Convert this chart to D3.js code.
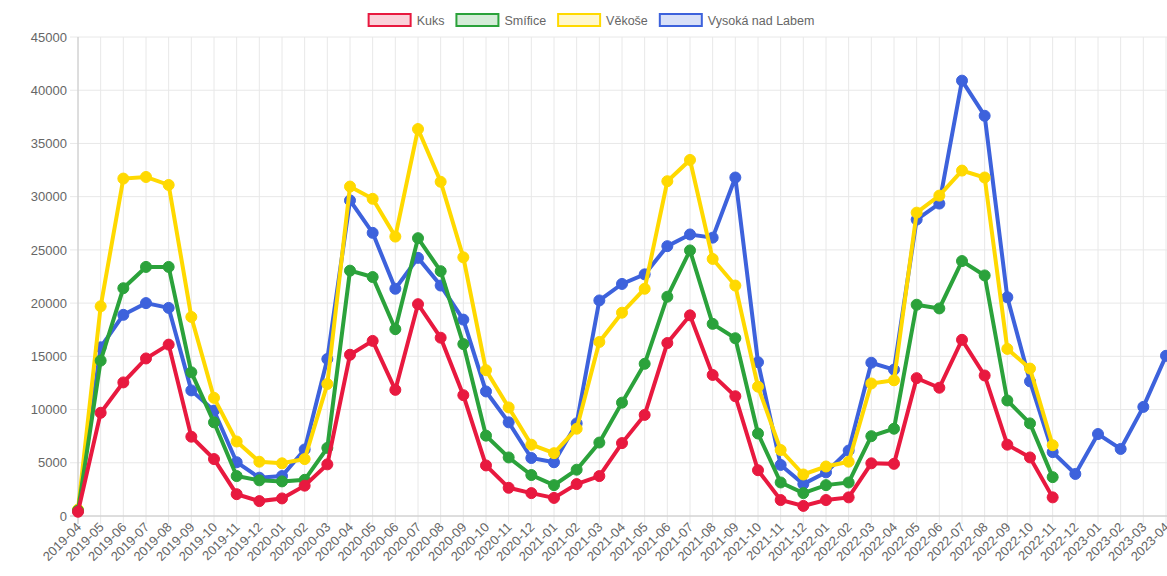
<!DOCTYPE html>
<html>
<head>
<meta charset="utf-8">
<script src="https://cdn.jsdelivr.net/npm/d3@7"></script>
<style>
  html, body { margin: 0; padding: 0; background: #fff; }
  svg { display: block; font-family: "Liberation Sans", Arial, sans-serif; }
</style>
</head>
<body>
<svg id="chart" width="1167" height="576"></svg>
<script>
// category labels (x axis)
const months = [
  '2019-04', '2019-05', '2019-06', '2019-07', '2019-08', '2019-09', '2019-10', '2019-11', '2019-12',
  '2020-01', '2020-02', '2020-03', '2020-04', '2020-05', '2020-06', '2020-07', '2020-08', '2020-09',
  '2020-10', '2020-11', '2020-12', '2021-01', '2021-02', '2021-03', '2021-04', '2021-05', '2021-06',
  '2021-07', '2021-08', '2021-09', '2021-10', '2021-11', '2021-12', '2022-01', '2022-02', '2022-03',
  '2022-04', '2022-05', '2022-06', '2022-07', '2022-08', '2022-09', '2022-10', '2022-11', '2022-12',
  '2023-01', '2023-02', '2023-03', '2023-04'
];

const yTicks = [0, 5000, 10000, 15000, 20000, 25000, 30000, 35000, 40000, 45000];

const kuks = [
  400, 9700, 12550, 14800, 16100, 7450, 5350, 2050, 1400,
  1650, 2850, 4850, 15150, 16450, 11850, 19900, 16750, 11350,
  4750, 2650, 2150, 1700, 3000, 3750, 6850, 9500, 16250,
  18850, 13250, 11250, 4300, 1500, 950, 1500, 1750, 4950,
  4900, 12950, 12050, 16550, 13200, 6700, 5500, 1750, null,
  null, null, null, null
];

const smifice = [
  500, 14600, 21400, 23400, 23400, 13500, 8800, 3750, 3350,
  3250, 3400, 6400, 23050, 22450, 17550, 26100, 23000, 16150,
  7550, 5500, 3850, 2900, 4350, 6900, 10650, 14300, 20600,
  24950, 18050, 16700, 7750, 3150, 2150, 2900, 3150, 7500,
  8200, 19850, 19500, 23950, 22600, 10850, 8700, 3650, null,
  null, null, null, null
];

const vekose = [
  600, 19700, 31700, 31850, 31100, 18700, 11100, 7000, 5100,
  4950, 5350, 12400, 30950, 29800, 26250, 36350, 31400, 24300,
  13700, 10200, 6700, 5900, 8200, 16350, 19100, 21350, 31450,
  33450, 24150, 21650, 12150, 6200, 3900, 4650, 5100, 12450,
  12750, 28500, 30100, 32450, 31800, 15700, 13850, 6650, null,
  null, null, null, null
];

const vysoka = [
  500, 15850, 18900, 20000, 19550, 11800, 9900, 5050, 3600,
  3750, 6250, 14750, 29650, 26600, 21350, 24250, 21650, 18450,
  11700, 8800, 5450, 5050, 8700, 20250, 21800, 22700, 25350,
  26450, 26150, 31800, 14450, 4800, 3000, 4100, 6150, 14400,
  13750, 27850, 29350, 40900, 37600, 20550, 12650, 6000, 3950,
  7700, 6300, 10250, 15050
];

const seriesNames = ['Kuks', 'Smífice', 'Věkoše', 'Vysoká nad Labem'];
const seriesColors = ['#e8193f', '#2ba23b', '#ffd900', '#3d62dc'];
const seriesFills = ['rgba(232,25,63,0.2)', 'rgba(43,162,59,0.2)', 'rgba(255,217,0,0.2)', 'rgba(61,98,220,0.2)'];
const seriesValues = [kuks, smifice, vekose, vysoka];

const svg = d3.select('#chart');
const margin = { top: 37, right: 1, bottom: 60, left: 78 };
const width = +svg.attr('width');
const height = +svg.attr('height');
const plotBottom = 516;

const x = d3.scalePoint()
  .domain(months)
  .range([margin.left, width - margin.right]);

const y = d3.scaleLinear()
  .domain([0, 45000])
  .range([plotBottom, margin.top]);

// grid
const grid = svg.append('g').attr('class', 'grid');

grid.selectAll('line.vgrid')
  .data(months)
  .join('line')
  .attr('class', 'vgrid')
  .attr('x1', d => x(d))
  .attr('x2', d => x(d))
  .attr('y1', margin.top)
  .attr('y2', plotBottom + 8)
  .attr('stroke', '#e8e8e8')
  .attr('stroke-width', 1);

grid.selectAll('line.hgrid')
  .data(yTicks)
  .join('line')
  .attr('class', 'hgrid')
  .attr('x1', margin.left - 8)
  .attr('x2', width)
  .attr('y1', d => y(d))
  .attr('y2', d => y(d))
  .attr('stroke', '#e8e8e8')
  .attr('stroke-width', 1);

// axis lines
svg.append('line')
  .attr('x1', margin.left).attr('x2', margin.left)
  .attr('y1', margin.top).attr('y2', plotBottom + 8)
  .attr('stroke', '#c8c8c8');

svg.append('line')
  .attr('x1', margin.left - 8).attr('x2', width)
  .attr('y1', plotBottom).attr('y2', plotBottom)
  .attr('stroke', '#c8c8c8');

// y axis labels
const yAxis = d3.axisLeft(y).tickValues(yTicks).tickSize(0).tickPadding(11).tickFormat(d3.format('d'));
svg.append('g')
  .attr('transform', `translate(${margin.left},0)`)
  .call(yAxis)
  .call(g => g.select('.domain').remove())
  .call(g => g.selectAll('text')
    .attr('fill', '#666')
    .attr('font-size', 13)
    .attr('font-family', '"Liberation Sans", Arial, sans-serif'));

// x axis labels
svg.append('g')
  .selectAll('text')
  .data(months)
  .join('text')
  .attr('transform', d => `translate(${x(d) + 4},${plotBottom + 12}) rotate(-45)`)
  .attr('text-anchor', 'end')
  .attr('fill', '#666')
  .attr('font-size', 13)
  .text(d => d);

// lines + points, last dataset drawn first (like chart.js)
const line = d3.line()
  .defined(d => d.v != null)
  .x(d => x(d.m))
  .y(d => y(d.v));

for (let s = seriesValues.length - 1; s >= 0; s--) {
  const pts = months.map((m, i) => ({ m: m, v: seriesValues[s][i] }));
  const g = svg.append('g').attr('class', 'series');

  g.append('path')
    .datum(pts)
    .attr('fill', 'none')
    .attr('stroke', seriesColors[s])
    .attr('stroke-width', 4)
    .attr('stroke-linejoin', 'miter')
    .attr('d', line);

  g.selectAll('circle')
    .data(pts.filter(d => d.v != null))
    .join('circle')
    .attr('cx', d => x(d.m))
    .attr('cy', d => y(d.v))
    .attr('r', 5.5)
    .attr('fill', seriesColors[s])
    .attr('stroke', seriesColors[s])
    .attr('stroke-width', 1);
}

// legend
const legend = svg.append('g').attr('class', 'legend');
const items = [];
seriesNames.forEach((name, i) => {
  const item = legend.append('g');
  item.append('rect')
    .attr('x', 1)
    .attr('y', 14)
    .attr('width', 42)
    .attr('height', 12)
    .attr('fill', seriesFills[i])
    .attr('stroke', seriesColors[i])
    .attr('stroke-width', 2);
  const t = item.append('text')
    .attr('x', 49)
    .attr('y', 24.5)
    .attr('fill', '#666')
    .attr('font-size', 12.5)
    .text(name);
  items.push({ item: item, w: 49 + t.node().getComputedTextLength() });
});

const gap = 11;
const total = d3.sum(items, d => d.w) + gap * (items.length - 1);
let cursor = 592 - total / 2;
items.forEach(d => {
  d.item.attr('transform', `translate(${cursor - 1},0)`);
  cursor += d.w + gap;
});
</script>
</body>
</html>
